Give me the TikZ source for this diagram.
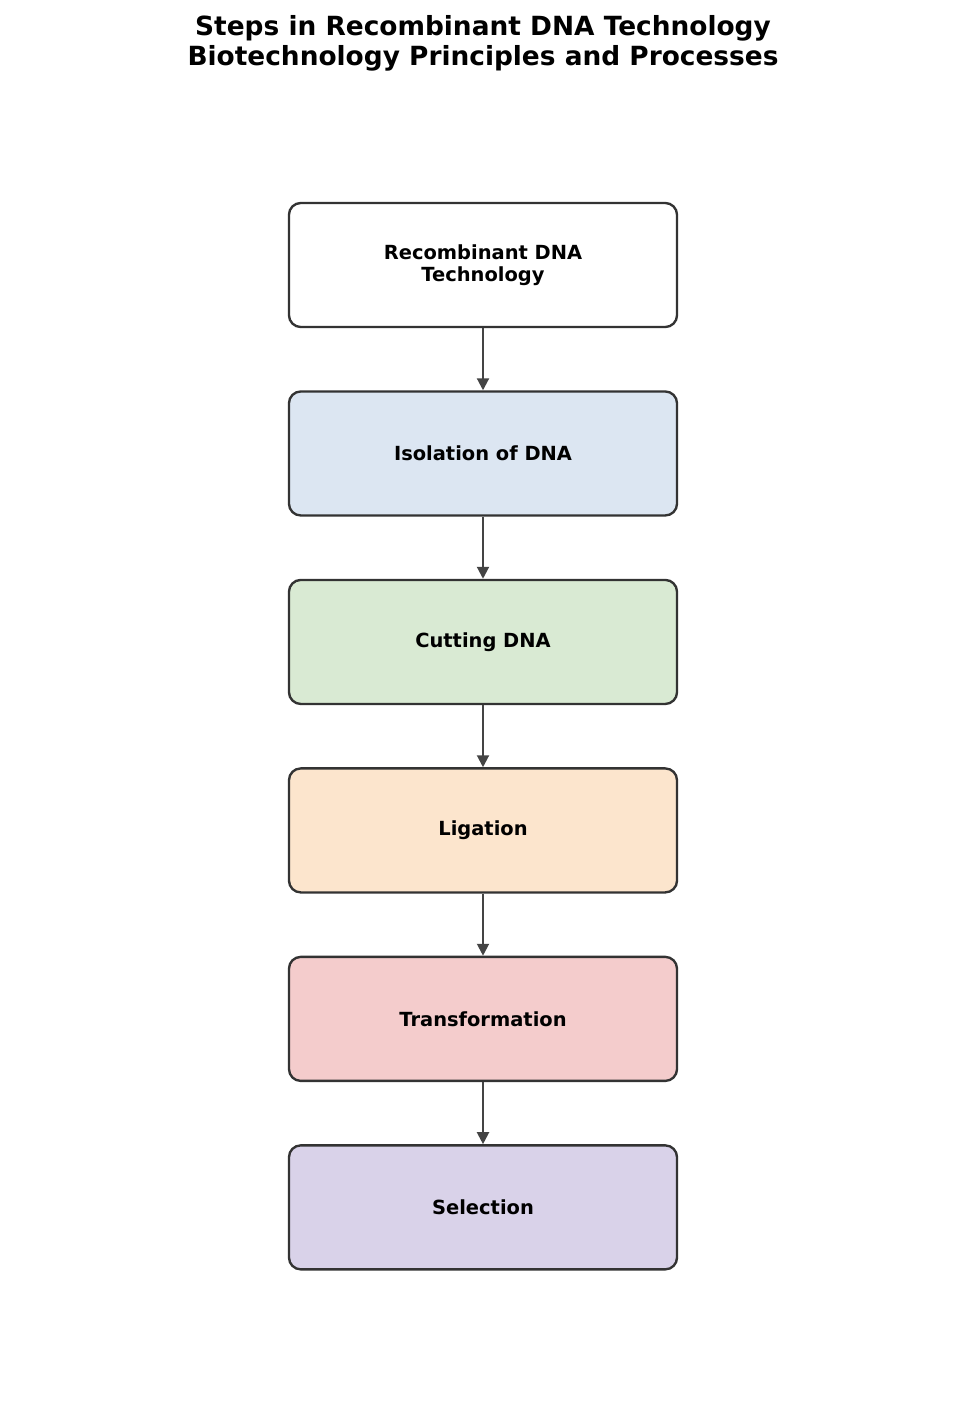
\documentclass[tikz,border=0pt]{standalone}
\usepackage{fontspec}
\setmainfont{DejaVu Sans}
\usetikzlibrary{arrows.meta,positioning}
\definecolor{edge}{HTML}{333333}
\definecolor{arrowgray}{HTML}{444444}
\definecolor{isofill}{HTML}{DCE6F2}
\definecolor{cutfill}{HTML}{D9EAD3}
\definecolor{ligfill}{HTML}{FCE5CD}
\definecolor{trafill}{HTML}{F4CCCC}
\definecolor{selfill}{HTML}{D9D2E9}

\begin{document}
\begin{tikzpicture}[x=0.72pt,y=-0.72pt,node distance=44.7pt,box/.style={draw=edge,line width=1.7pt,rounded corners=8.5pt,fill=white,align=center,minimum width=279.4pt,minimum height=89.3pt,font=\fontsize{14}{16}\selectfont\bfseries},arr/.style={-{Triangle[width=8.6pt,length=8.6pt]},draw=arrowgray,line width=1.5pt}]
\useasboundingbox (0,0) rectangle (965,1413);
\node[font=\fontsize{19}{21.6}\selectfont\bfseries,align=center] (title) at (483,43.5) {Steps in Recombinant DNA Technology\\Biotechnology Principles and Processes};
\node[box] (rdna) at (483,265) {Recombinant DNA\\Technology};
\node[box,fill=isofill,below=of rdna] (iso) {Isolation of DNA};
\node[box,fill=cutfill,below=of iso] (cut) {Cutting DNA};
\node[box,fill=ligfill,below=of cut] (lig) {Ligation};
\node[box,fill=trafill,below=of lig] (tra) {Transformation};
\node[box,fill=selfill,below=of tra] (sel) {Selection};
\draw[arr] (rdna)--(iso); \draw[arr] (iso)--(cut); \draw[arr] (cut)--(lig);
\draw[arr] (lig)--(tra); \draw[arr] (tra)--(sel);
\end{tikzpicture}
\end{document}
